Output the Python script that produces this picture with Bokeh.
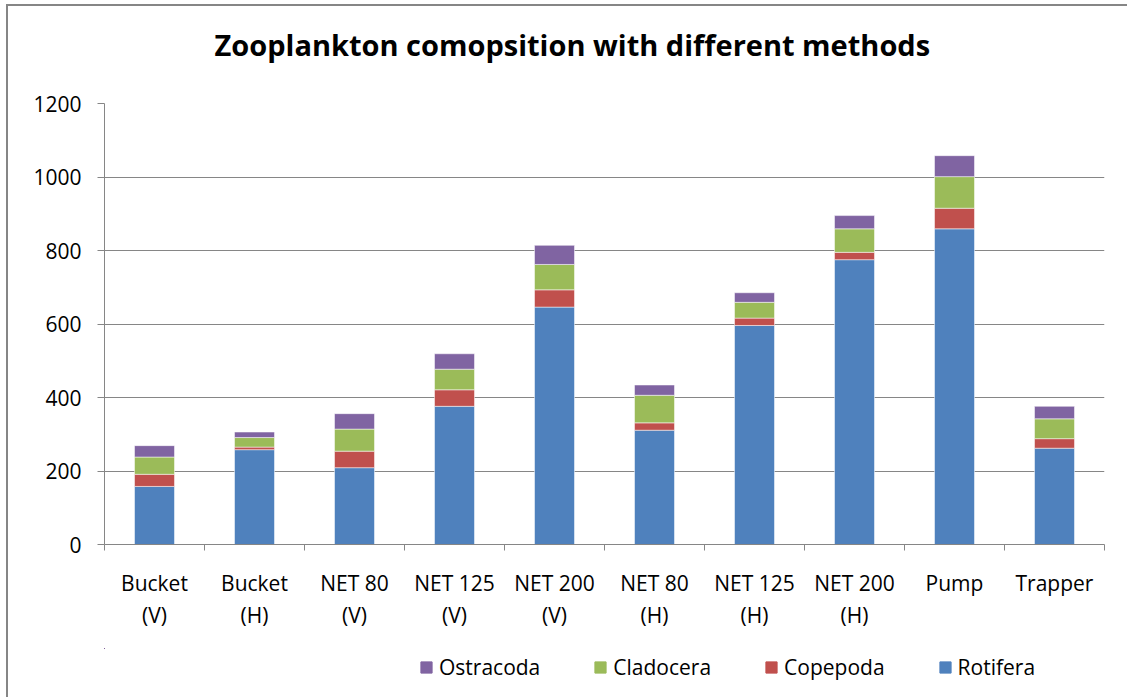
from bokeh.plotting import figure
from bokeh.layouts import column
from bokeh.models import (Range1d, LinearAxis, FixedTicker, Legend, LegendItem,
                          ColumnDataSource)
from bokeh.embed import file_html
from bokeh.resources import INLINE

# ---- data ----
methods = ["Bucket\n(V)", "Bucket\n(H)", "NET 80\n(V)", "NET 125\n(V)", "NET 200\n(V)",
           "NET 80\n(H)", "NET 125\n(H)", "NET 200\n(H)", "Pump", "Trapper"]
rotifera = [158, 258, 209, 376, 646, 311, 596, 775, 859, 262]
copepoda = [33, 7, 45, 45, 47, 20, 20, 20, 56, 26]
cladocera = [47, 26, 60, 56, 69, 75, 43, 64, 86, 54]
ostracoda = [31, 15, 42, 42, 52, 28, 26, 36, 57, 34]
series = ["Rotifera", "Copepoda", "Cladocera", "Ostracoda"]
colors = ["#4F81BD", "#C0504D", "#9BBB59", "#8064A2"]
y_ticks = [0, 200, 400, 600, 800, 1000, 1200]
title_text = "Zooplankton comopsition with different methods"

FONT = "Open Sans"
GRAY = "#868686"

n = len(methods)
centers = [i + 0.5 for i in range(n)]
src = ColumnDataSource(dict(x=centers, Rotifera=rotifera, Copepoda=copepoda,
                            Cladocera=cladocera, Ostracoda=ostracoda))

p = figure(width=1119, height=642, x_range=Range1d(0, n), y_range=Range1d(0, 1200),
           output_backend="svg", toolbar_location=None,
           x_axis_location=None, y_axis_location=None,
           title=title_text + "\n\u00a0",
           min_border_left=96, min_border_right=23, min_border_top=97, min_border_bottom=104)
p.outline_line_color = None
p.background_fill_color = "white"
p.border_fill_color = "white"

p.title.text_font = FONT
p.title.text_font_style = "bold"
p.title.text_font_size = "29px"
p.title.text_color = "black"
p.title.align = "left"
p.title.offset = 110
p.title.standoff = 2

renderers = p.vbar_stack(series, x="x", width=0.4, source=src, color=colors,
                         line_color="white", line_alpha=0.5, line_width=1)

# y axis
yax = LinearAxis(ticker=FixedTicker(ticks=y_ticks))
yax.axis_line_color = GRAY
yax.major_tick_line_color = GRAY
yax.major_tick_out = 7
yax.major_tick_in = 0
yax.minor_tick_line_color = None
yax.major_label_text_font = FONT
yax.major_label_text_font_size = "21px"
yax.major_label_text_color = "black"
yax.major_label_standoff = 16
p.add_layout(yax, "left")

# x axis: ticks at category edges (no labels)
edges = list(range(n + 1))
edge_ax = LinearAxis(ticker=FixedTicker(ticks=edges),
                     major_label_overrides={e: "" for e in edges})
edge_ax.axis_line_color = GRAY
edge_ax.major_tick_line_color = GRAY
edge_ax.major_tick_out = 6
edge_ax.major_tick_in = 0
edge_ax.minor_tick_line_color = None
edge_ax.major_label_standoff = 0
edge_ax.major_label_text_font_size = "1px"
p.add_layout(edge_ax, "below")

# x axis: category labels
cat_ax = LinearAxis(ticker=FixedTicker(ticks=centers),
                    major_label_overrides={c: m for c, m in zip(centers, methods)})
cat_ax.axis_line_color = None
cat_ax.major_tick_line_color = None
cat_ax.minor_tick_line_color = None
cat_ax.major_label_text_font = FONT
cat_ax.major_label_text_font_size = "21px"
cat_ax.major_label_text_color = "black"
cat_ax.major_label_text_line_height = 1.15
cat_ax.major_label_standoff = 12
p.add_layout(cat_ax, "below")

p.xgrid.grid_line_color = None
p.ygrid.grid_line_color = GRAY
p.ygrid.ticker = FixedTicker(ticks=y_ticks)

# legend strip below the chart (its bars sit far outside its visible ranges)
p2 = figure(width=1119, height=49, x_range=Range1d(1000, 1001), y_range=Range1d(-2000, -1000),
            output_backend="svg", toolbar_location=None,
            x_axis_location=None, y_axis_location=None,
            min_border_left=0, min_border_right=0, min_border_top=0, min_border_bottom=0)
p2.outline_line_color = None
p2.xgrid.grid_line_color = None
p2.ygrid.grid_line_color = None
leg_renderers = p2.vbar_stack(series, x="x", width=0.4, source=src, color=colors)

items = [LegendItem(label=s, renderers=[r]) for s, r in zip(series, leg_renderers)][::-1]
leg = Legend(items=items, orientation="horizontal", location=(315, 16))
leg.label_text_font = FONT
leg.label_text_font_size = "21px"
leg.label_text_color = "black"
leg.glyph_width = 14
leg.glyph_height = 14
leg.label_standoff = 6
leg.spacing = 53
leg.padding = 0
leg.margin = 0
leg.border_line_color = None
leg.background_fill_alpha = 0
p2.add_layout(leg, "center")

layout = column(p, p2, spacing=0)
layout.styles = {"border-left": "2px solid #868686", "border-top": "2px solid #868686",
                 "margin-left": "6px", "margin-top": "4px"}
open("out.html", "w").write(file_html(layout, INLINE))
